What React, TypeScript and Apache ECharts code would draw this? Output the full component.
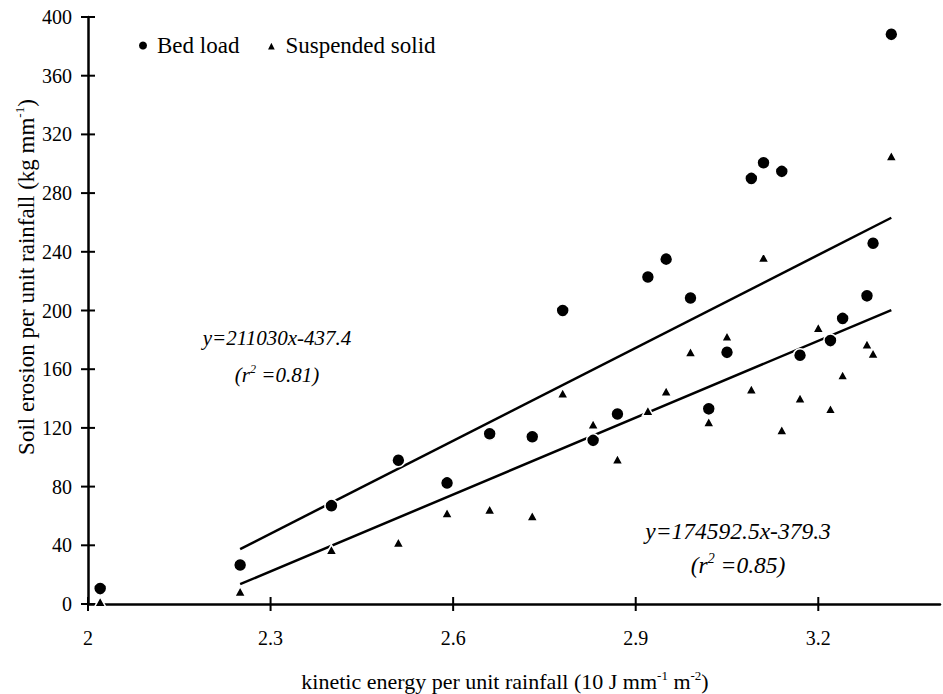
import React, { useEffect, useRef } from "react";
import * as echarts from "echarts";

const bedX = [2.02, 2.25, 2.4, 2.51, 2.59, 2.66, 2.73, 2.78, 2.83, 2.87, 2.92, 2.95, 2.99, 3.02, 3.05, 3.09, 3.11, 3.14, 3.17, 3.22, 3.24, 3.28, 3.29, 3.32];
const bedY = [10.5, 26.6, 67, 98, 82.5, 116, 114, 200, 111.5, 129.5, 222.8, 235, 208.5, 133, 171.5, 290, 300.7, 294.8, 169.5, 179.5, 194.6, 210, 245.8, 388.2];

const suspX = [2.02, 2.25, 2.4, 2.51, 2.59, 2.66, 2.73, 2.78, 2.83, 2.87, 2.92, 2.95, 2.99, 3.02, 3.05, 3.09, 3.11, 3.14, 3.17, 3.2, 3.22, 3.24, 3.28, 3.29, 3.32];
const suspY = [1.5, 8.5, 37, 42, 62, 64.5, 60, 143.6, 122.5, 98.6, 131.7, 145, 171.7, 124, 182.4, 146.3, 236.2, 118.6, 140.2, 188.3, 133, 156, 177, 170.8, 305.3];

const bedFitLine = [[2.25, 37.4], [3.32, 263.2]];
const suspFitLine = [[2.25, 13.5], [3.32, 200.3]];

const xTickValues = [2, 2.3, 2.6, 2.9, 3.2];
const yTickValues = [0, 40, 80, 120, 160, 200, 240, 280, 320, 360, 400];

const seriesNames = ["Bed load", "Suspended solid"];
const bedEquation = ["y=211030x-437.4", "0.81"];
const suspEquation = ["y=174592.5x-379.3", "0.85"];

const FONT = "Liberation Serif";

export default function App() {
  const ref = useRef<HTMLDivElement>(null);

  useEffect(() => {
    if (!ref.current) return;
    const chart = echarts.init(ref.current, null, { renderer: "svg" });

    const zip = (xs: number[], ys: number[]) => xs.map((x, i) => [x, ys[i]]);

    const xFmt = (v: number) => (v > 3.3 ? "" : String(Number(v.toFixed(1))));

    const supStyle = (size: number, italic: boolean) => ({
      fontSize: Math.round(size * 0.58),
      fontFamily: FONT,
      fontStyle: italic ? "italic" : "normal",
      verticalAlign: "top",
      lineHeight: size + 3,
      color: "#000",
    });
    const normStyle = (size: number, italic: boolean) => ({
      fontSize: size,
      fontFamily: FONT,
      fontStyle: italic ? "italic" : "normal",
      lineHeight: size + 3,
      color: "#000",
    });

    const eqText = (cx: number, cy: number, eq: string[], size: number, gap: number) => [
      {
        type: "text",
        x: cx,
        y: cy,
        style: {
          text: eq[0],
          fontFamily: FONT,
          fontStyle: "italic",
          fontSize: size,
          fill: "#000",
          align: "center",
          verticalAlign: "middle",
        },
      },
      {
        type: "text",
        x: cx,
        y: cy + gap,
        style: {
          text: `{i|(r}{s|2}{i| =${eq[1]})}`,
          align: "center",
          verticalAlign: "middle",
          rich: { i: normStyle(size, true), s: supStyle(size, true) },
        },
      },
    ];

    const texts: any[] = [
      {
        type: "text",
        x: 26,
        y: 277,
        rotation: Math.PI / 2,
        style: {
          text: "{n|Soil erosion per unit rainfall (kg mm}{s|-1}{n|)}",
          align: "center",
          verticalAlign: "middle",
          rich: { n: normStyle(23, false), s: supStyle(23, false) },
        },
      },
      {
        type: "text",
        x: 505,
        y: 681,
        style: {
          text: "{n|kinetic energy per unit rainfall (10 J mm}{s|-1}{n| m}{s|-2}{n|)}",
          align: "center",
          verticalAlign: "middle",
          rich: { n: normStyle(22, false), s: supStyle(22, false) },
        },
      },
      ...eqText(277, 338, bedEquation, 21, 37),
      ...eqText(738, 531, suspEquation, 23.5, 34),
    ];

    const tickSeries = (data: number[][], vertical: boolean) => ({
      type: "custom",
      silent: true,
      clip: false,
      z: 10,
      data,
      encode: { x: 0, y: 1 },
      renderItem: (params: any, api: any) => {
        const p = api.coord([api.value(0), api.value(1)]);
        return {
          type: "rect",
          shape: vertical
            ? { x: p[0] - 1, y: p[1] - 7, width: 2, height: 14 }
            : { x: p[0] - 7, y: p[1] - 1, width: 14, height: 2 },
          style: { fill: "#000" },
        };
      },
    });

    chart.setOption({
      animation: false,
      backgroundColor: "#fff",
      grid: { left: 88, right: 0, top: 17, bottom: 90 },
      legend: {
        left: 132,
        top: 29,
        itemWidth: 10,
        itemHeight: 10,
        itemGap: 26,
        data: [
          { name: seriesNames[0], icon: "circle" },
          { name: seriesNames[1], icon: "triangle" },
        ],
        textStyle: { fontFamily: FONT, fontSize: 23, color: "#000", padding: [0, 0, 0, 4] },
      },
      xAxis: {
        type: "value",
        min: 2,
        max: 3.4,
        interval: 0.3,
        splitLine: { show: false },
        axisLine: { show: true, lineStyle: { color: "#000", width: 2.5 } },
        axisTick: { show: false },
        axisLabel: { show: true, margin: 24, fontFamily: FONT, fontSize: 20, color: "#000", formatter: xFmt },
      },
      yAxis: {
        type: "value",
        min: 0,
        max: 400,
        interval: 40,
        splitLine: { show: false },
        axisLine: { show: true, lineStyle: { color: "#000", width: 2.5 } },
        axisTick: { show: false },
        axisLabel: { show: true, margin: 16, fontFamily: FONT, fontSize: 20, color: "#000" },
      },
      series: [
        {
          name: "bedFit",
          type: "line",
          data: bedFitLine,
          symbol: "none",
          lineStyle: { color: "#000", width: 2.5 },
          z: 1,
          silent: true,
        },
        {
          name: "suspFit",
          type: "line",
          data: suspFitLine,
          symbol: "none",
          lineStyle: { color: "#000", width: 2.5 },
          z: 1,
          silent: true,
        },
        {
          name: seriesNames[0],
          type: "scatter",
          symbol: "circle",
          symbolSize: 13,
          data: zip(bedX, bedY),
          itemStyle: { color: "#000", borderColor: "#fff", borderWidth: 1.5, opacity: 1 },
          clip: false,
          z: 3,
        },
        {
          name: seriesNames[1],
          type: "scatter",
          symbol: "triangle",
          symbolSize: [11, 10],
          data: zip(suspX, suspY),
          itemStyle: { color: "#000", borderColor: "#fff", borderWidth: 1.5, opacity: 1 },
          clip: false,
          z: 3,
        },
        { name: "xTickMarks", ...tickSeries(xTickValues.map((v) => [v, 0]), true) },
        { name: "yTickMarks", ...tickSeries(yTickValues.map((v) => [2, v]), false) },
      ],
      graphic: texts,
    });

    return () => chart.dispose();
  }, []);

  return <div ref={ref} style={{ width: 943, height: 694, position: "absolute", left: 0, top: 0 }} />;
}
